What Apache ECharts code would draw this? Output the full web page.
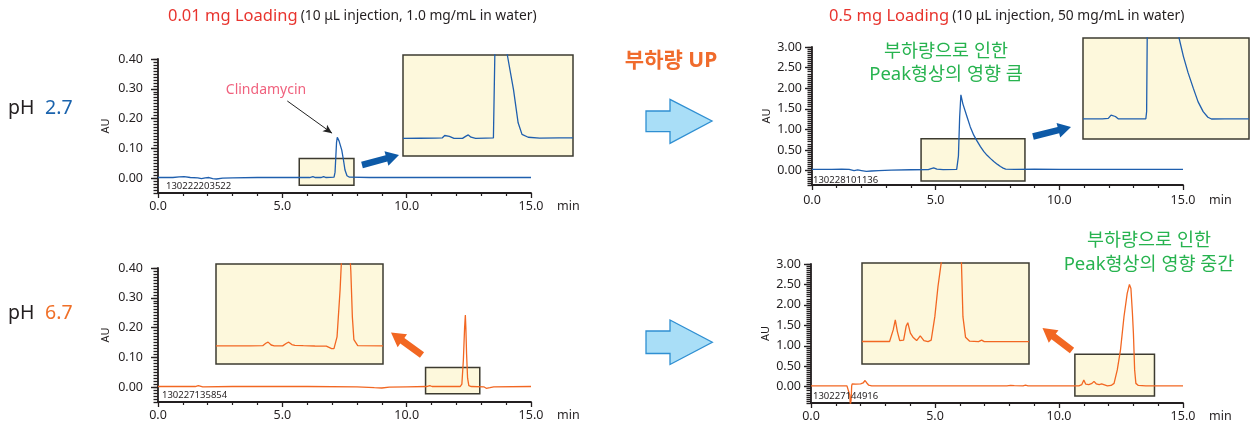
<!DOCTYPE html>
<html>
<head>
<meta charset="utf-8">
<script src="https://cdn.jsdelivr.net/npm/echarts@6/dist/echarts.min.js"></script>
<style>
html,body{margin:0;padding:0;background:#fff;}
#c{width:1254px;height:428px;}
</style>
</head>
<body>
<div id="c"></div>
<script>
// ---------------- data ----------------
const xTicks = [0, 5, 10, 15];
const yTicksLow = [0, 0.1, 0.2, 0.3, 0.4];
const yTicksHigh = [0, 0.5, 1.0, 1.5, 2.0, 2.5, 3.0];
const sampleIds = ['130222203522', '130228101136', '130227135854', '130227144916'];

// pH 2.7, 0.01 mg loading  [min, AU]
const ph27Low = [[0,0.002],[0.6,0.002],[0.85,0.004],[1.05,0.005],[1.3,0.002],[1.6,0.001],[1.75,-0.002],[1.9,0.001],[2.05,0.002],[2.2,-0.002],[2.35,-0.003],[2.6,0.0],[3.0,0.001],[4.0,0.002],[5.0,0.002],[5.7,0.002],[6.1,0.002],[6.23,0.005],[6.33,0.002],[6.55,0.002],[6.66,0.005],[6.76,0.002],[7.08,0.003],[7.12,0.02],[7.15,0.07],[7.18,0.12],[7.21,0.137],[7.28,0.125],[7.39,0.094],[7.46,0.06],[7.52,0.027],[7.6,0.008],[7.7,0.003],[8.5,0.002],[10,0.002],[12,0.002],[13.5,0.002],[15,0.002]];
const ph27LowInset = [[5.68,0.0022],[5.9,0.0023],[6.1,0.0024],[6.19,0.0026],[6.22,0.0042],[6.245,0.0052],[6.28,0.0036],[6.34,0.0022],[6.45,0.0022],[6.49,0.0036],[6.525,0.0046],[6.56,0.003],[6.62,0.0022],[6.75,0.0024],[6.85,0.0025],[6.87,0.065],[6.95,0.12],[7.0,0.09],[7.03,0.06],[7.11,0.036],[7.17,0.013],[7.22,0.005],[7.3,0.003],[7.45,0.0024],[7.7,0.0026],[7.88,0.0026]];
const box27Low = [[5.68, -0.024], [7.88, 0.066]];

// pH 2.7, 0.5 mg loading
const ph27High = [[0,0.03],[0.8,0.03],[1.2,0.035],[1.5,0.03],[1.7,0.0],[1.85,0.015],[2.0,0.0],[2.2,-0.02],[2.4,-0.01],[2.7,0.0],[3.2,0.01],[4.0,0.02],[4.7,0.025],[4.82,0.05],[4.92,0.065],[5.05,0.035],[5.3,0.025],[5.85,0.03],[5.92,0.35],[5.97,1.3],[6.02,1.84],[6.1,1.62],[6.27,1.3],[6.4,1.06],[6.54,0.86],[6.67,0.72],[6.81,0.58],[6.95,0.46],[7.08,0.37],[7.22,0.29],[7.35,0.22],[7.5,0.15],[7.62,0.1],[7.73,0.06],[7.83,0.035],[8.2,0.03],[9.0,0.035],[10,0.03],[12,0.03],[15,0.03]];
const ph27HighInset = [[4.41,0.02],[4.9,0.02],[5.05,0.025],[5.12,0.06],[5.17,0.07],[5.23,0.045],[5.3,0.02],[5.6,0.02],[6.0,0.02],[6.02,0.1],[6.04,1.2],[6.5,1.5],[6.8,1.0],[6.84,0.9],[6.95,0.70],[7.07,0.52],[7.2,0.354],[7.32,0.207],[7.45,0.098],[7.57,0.037],[7.66,0.018],[8.0,0.02],[8.61,0.02]];
const box27High = [[4.41, -0.25], [8.61, 0.77]];

// pH 6.7, 0.01 mg loading
const ph67Low = [[0,0.002],[1.0,0.002],[1.5,0.002],[1.62,0.005],[1.7,0.003],[1.8,0.001],[3,0.002],[6,0.002],[8,0.001],[8.7,-0.002],[9.0,-0.003],[9.3,0.0],[10,0.001],[10.8,0.002],[10.93,0.005],[11.02,0.002],[11.22,0.002],[11.29,0.005],[11.38,0.002],[12.0,0.002],[12.15,0.002],[12.22,0.01],[12.28,0.09],[12.33,0.2],[12.36,0.242],[12.38,0.2],[12.41,0.11],[12.45,0.03],[12.5,0.005],[12.6,0.002],[13.1,0.001],[13.2,-0.004],[13.27,-0.007],[13.35,-0.002],[13.5,0.001],[15,0.002]];
const ph67LowInset = [[10.76,0.0027],[11.2,0.0027],[11.37,0.0028],[11.41,0.0045],[11.44,0.0053],[11.48,0.0033],[11.52,0.0027],[11.63,0.0027],[11.68,0.0045],[11.71,0.0053],[11.75,0.0036],[11.79,0.0031],[11.9,0.0028],[12.05,0.0026],[12.2,0.0025],[12.27,0.0008],[12.3,0.0008],[12.34,0.009],[12.38,0.042],[12.40,0.065],[12.45,0.09],[12.51,0.065],[12.52,0.055],[12.54,0.023],[12.56,0.007],[12.61,0.0028],[12.94,0.0027]];
const box67Low = [[10.76, -0.022], [12.94, 0.066]];

// pH 6.7, 0.5 mg loading
const ph67High = [[0,0.02],[1.45,0.02],[1.53,0.0],[1.56,-0.2],[1.59,-0.45],[1.62,-0.3],[1.64,0.02],[1.66,0.07],[1.8,0.06],[2.0,0.07],[2.1,0.09],[2.18,0.15],[2.25,0.09],[2.32,0.04],[2.45,0.02],[3,0.02],[5,0.02],[7.9,0.02],[8.05,0.03],[8.12,0.045],[8.2,0.025],[8.55,0.02],[8.65,0.035],[8.75,0.02],[10.8,0.02],[10.92,0.05],[11.0,0.16],[11.08,0.06],[11.2,0.05],[11.33,0.08],[11.41,0.13],[11.5,0.07],[11.62,0.05],[11.72,0.065],[11.8,0.03],[11.95,0.02],[12.1,0.03],[12.22,0.08],[12.35,0.41],[12.48,0.9],[12.62,1.71],[12.75,2.28],[12.84,2.5],[12.9,2.4],[12.96,1.8],[13.0,1.31],[13.05,0.41],[13.1,0.08],[13.2,0.03],[13.5,0.02],[15,0.02]];
const ph67HighInset = [[10.64,0.021],[11.17,0.021],[11.24,0.096],[11.28,0.161],[11.32,0.085],[11.365,0.027],[11.44,0.03],[11.49,0.122],[11.52,0.143],[11.57,0.075],[11.62,0.049],[11.69,0.027],[11.76,0.058],[11.83,0.027],[11.91,0.02],[11.97,0.03],[12.04,0.182],[12.10,0.376],[12.17,0.55],[12.3,0.8],[12.5,0.8],[12.55,0.55],[12.58,0.182],[12.63,0.049],[12.71,0.023],[12.88,0.02],[12.94,0.03],[12.99,0.02],[13.85,0.02]];
const box67High = [[10.64, -0.23], [13.85, 0.79]];

// ---------------- styling ----------------
const FONT = "'Noto Sans', 'Noto Sans CJK KR', sans-serif";
const INK = '#231f20';
const BLUE = '#1f5fae';
const ORANGE = '#f26722';
const BOXFILL = '#fdf8dc';
const BOXLINE = '#3d3b30';

const panels = [
  {data: ph27Low, inset: ph27LowInset, box: box27Low, color: BLUE, grid: {left:158, top:59, width:373, height:134}, yMin:-0.05, yMax:0.4, yTicks: yTicksLow, minorInt:0.01, yMargin:15, xMargin:7, nameGap:47,
   insetGrid: {left:403, top:55, width:170, height:101}, insetY:[-0.01, 0.06]},
  {data: ph27High, inset: ph27HighInset, box: box27High, color: BLUE, grid: {left:812, top:47, width:371, height:138}, yMin:-0.35, yMax:3.0, yTicks: yTicksHigh, minorInt:0.05, yMargin:10, xMargin:9, nameGap:40,
   insetGrid: {left:1083, top:38, width:166, height:101}, insetY:[-0.2, 0.9]},
  {data: ph67Low, inset: ph67LowInset, box: box67Low, color: ORANGE, grid: {left:158, top:268, width:373, height:134}, yMin:-0.05, yMax:0.4, yTicks: yTicksLow, minorInt:0.01, yMargin:15, xMargin:7, nameGap:47,
   insetGrid: {left:216, top:264, width:167, height:100}, insetY:[-0.01, 0.06]},
  {data: ph67High, inset: ph67HighInset, box: box67High, color: ORANGE, grid: {left:811, top:264, width:372, height:139}, yMin:-0.4, yMax:3.0, yTicks: yTicksHigh, minorInt:0.05, yMargin:10, xMargin:7, nameGap:40,
   insetGrid: {left:862, top:263, width:167, height:101}, insetY:[-0.125, 0.53]}
];

const grids = [], xAxes = [], yAxes = [], series = [];
panels.forEach((p, i) => {
  grids.push(Object.assign({containLabel:false}, p.grid));
  grids.push(Object.assign({show:true, backgroundColor:BOXFILL, borderColor:BOXLINE, borderWidth:1.5, z:3}, p.insetGrid));
  const gMain = 2*i, gIn = 2*i+1;
  xAxes.push({
    gridIndex:gMain, type:'value', min:0, max:15, interval:5,
    axisLine:{show:true, onZero:false, lineStyle:{color:INK, width:1.8}},
    axisTick:{show:true, length:5, lineStyle:{color:INK, width:1.3}},
    minorTick:{show:true, splitNumber:5, length:3, lineStyle:{color:INK, width:1.2}},
    splitLine:{show:false}, minorSplitLine:{show:false},
    axisLabel:{customValues:xTicks, formatter:v=>v.toFixed(1), fontSize:12.5, color:INK, margin:p.xMargin, fontFamily:FONT},
    name:'min', nameLocation:'end', nameGap:26,
    nameTextStyle:{fontSize:12.5, color:INK, fontFamily:FONT, verticalAlign:'top', padding:[p.xMargin,0,0,0]}
  });
  xAxes.push({gridIndex:gIn, type:'value', min:p.box[0][0], max:p.box[1][0], show:false});
  yAxes.push({
    gridIndex:gMain, type:'value', min:p.yMin, max:p.yMax, position:'left',
    axisLine:{show:true, onZero:false, lineStyle:{color:INK, width:1.8}},
    axisTick:{show:true, length:7, customValues:p.yTicks, lineStyle:{color:INK, width:1.4}},
    axisLabel:{customValues:p.yTicks, formatter:v=>v.toFixed(2), fontSize:12.5, color:INK, margin:p.yMargin, fontFamily:FONT},
    splitLine:{show:false},
    name:'AU', nameLocation:'middle', nameGap:p.nameGap, nameRotate:90,
    nameTextStyle:{fontSize:11, color:INK, fontFamily:FONT}
  });
  yAxes.push({
    gridIndex:gMain, type:'value', min:p.yMin, max:p.yMax, interval:p.minorInt, position:'left',
    axisLine:{show:false}, axisTick:{show:true, length:4.5, lineStyle:{color:INK, width:1.3}},
    axisLabel:{show:false}, splitLine:{show:false}
  });
  yAxes.push({gridIndex:gIn, type:'value', min:p.insetY[0], max:p.insetY[1], show:false});
  const mainSeries = {
    type:'line', xAxisIndex:gMain, yAxisIndex:3*i, data:p.data, showSymbol:false, symbol:'none',
    lineStyle:{color:p.color, width:1.3}, clip:true, silent:true, z:4,
    markArea:{silent:true, itemStyle:{color:BOXFILL, borderColor:BOXLINE, borderWidth:1.5},
      data:[[{coord:p.box[0]}, {coord:p.box[1]}]]}
  };
  if (i === 0) {
    mainSeries.markLine = {silent:true, symbol:['none','arrow'], symbolSize:[6,9],
      lineStyle:{color:'#222', width:1, type:'solid'}, label:{show:false},
      data:[[{coord:[5.2,0.259]}, {coord:[7.0,0.151]}]]};
  }
  series.push(mainSeries);
  series.push({type:'line', xAxisIndex:2*i+1, yAxisIndex:3*i+2, data:p.inset, showSymbol:false, symbol:'none',
    lineStyle:{color:p.color, width:1.3}, clip:true, silent:true, z:5});
});

function arrowPts(x1,y1,x2,y2,sw,hl,hw){
  const dx=x2-x1, dy=y2-y1, L=Math.hypot(dx,dy), ux=dx/L, uy=dy/L, nx=-uy, ny=ux;
  const bx=x2-ux*hl, by=y2-uy*hl;
  return [[x1+nx*sw/2,y1+ny*sw/2],[bx+nx*sw/2,by+ny*sw/2],[bx+nx*hw/2,by+ny*hw/2],[x2,y2],
          [bx-nx*hw/2,by-ny*hw/2],[bx-nx*sw/2,by-ny*sw/2],[x1-nx*sw/2,y1-ny*sw/2]];
}
function txt(x,y,text,size,color,align,extra){
  return {type:'text', x:x, y:y, z:10, style:Object.assign({text:text, fontSize:size, fontFamily:FONT, fill:color, align:align||'left', verticalAlign:'middle'}, extra||{})};
}

const graphics = [
  {type:'text', x:168, y:16, z:10, style:{text:'{r|0.01 mg Loading} {k|(10 μL injection, 1.0 mg/mL in water)}', verticalAlign:'middle', fontFamily:FONT,
    rich:{r:{fontSize:16.5, fill:'#e8342e', fontFamily:FONT}, k:{fontSize:13.8, fill:INK, fontFamily:FONT}}}},
  {type:'text', x:829, y:16, z:10, style:{text:'{r|0.5 mg Loading} {k|(10 μL injection, 50 mg/mL in water)}', verticalAlign:'middle', fontFamily:FONT,
    rich:{r:{fontSize:16.5, fill:'#e8342e', fontFamily:FONT}, k:{fontSize:13.8, fill:INK, fontFamily:FONT}}}},
  txt(8,108,'pH',19.5,INK),
  txt(45,108,'2.7',19.5,'#1a63ad'),
  txt(8,313,'pH',19.5,INK),
  txt(45,313,'6.7',19.5,'#f07028'),
  txt(671,61,'부하량 UP',21,'#f06b2c','center',{fontWeight:'bold'}),
  txt(266,90,'Clindamycin',14,'#f0627e','center'),
  txt(946,52,'부하량으로 인한',18.5,'#27b34f','center'),
  txt(946,75,'Peak형상의 영향 큼',18.5,'#27b34f','center'),
  txt(1149,241,'부하량으로 인한',18.5,'#27b34f','center'),
  txt(1149,265,'Peak형상의 영향 중간',18.5,'#27b34f','center'),
  txt(166,186,sampleIds[0],9.5,INK),
  txt(813,180,sampleIds[1],9.5,INK),
  txt(162,395,sampleIds[2],9.5,INK),
  txt(813,396,sampleIds[3],9.5,INK),
  {type:'polygon', z:10, shape:{points:[[646,111],[670,111],[670,99.3],[712,121],[670,143.3],[670,131.7],[646,131.7]]},
    style:{fill:'#a9def7', stroke:'#2f8fd2', lineWidth:1.3}},
  {type:'polygon', z:10, shape:{points:[[646,331],[670,331],[670,320],[712.3,342.3],[670,364.5],[670,353.5],[646,353.5]]},
    style:{fill:'#a9def7', stroke:'#2f8fd2', lineWidth:1.3}},
  {type:'polygon', z:10, shape:{points:arrowPts(362,165,399,155,6.5,13,15)}, style:{fill:'#0d5aa7'}},
  {type:'polygon', z:10, shape:{points:arrowPts(1033,136.5,1071,127,6.5,13,15)}, style:{fill:'#0d5aa7'}},
  {type:'polygon', z:10, shape:{points:arrowPts(422,355,391,332.5,7,14,16)}, style:{fill:ORANGE}},
  {type:'polygon', z:10, shape:{points:arrowPts(1072,350.5,1042.5,328,7,14,16)}, style:{fill:ORANGE}}
];

const chart = echarts.init(document.getElementById('c'), null, {renderer:'canvas'});
chart.setOption({
  animation:false,
  backgroundColor:'#ffffff',
  textStyle:{fontFamily:FONT},
  grid:grids, xAxis:xAxes, yAxis:yAxes, series:series, graphic:graphics
});
</script>
</body>
</html>
